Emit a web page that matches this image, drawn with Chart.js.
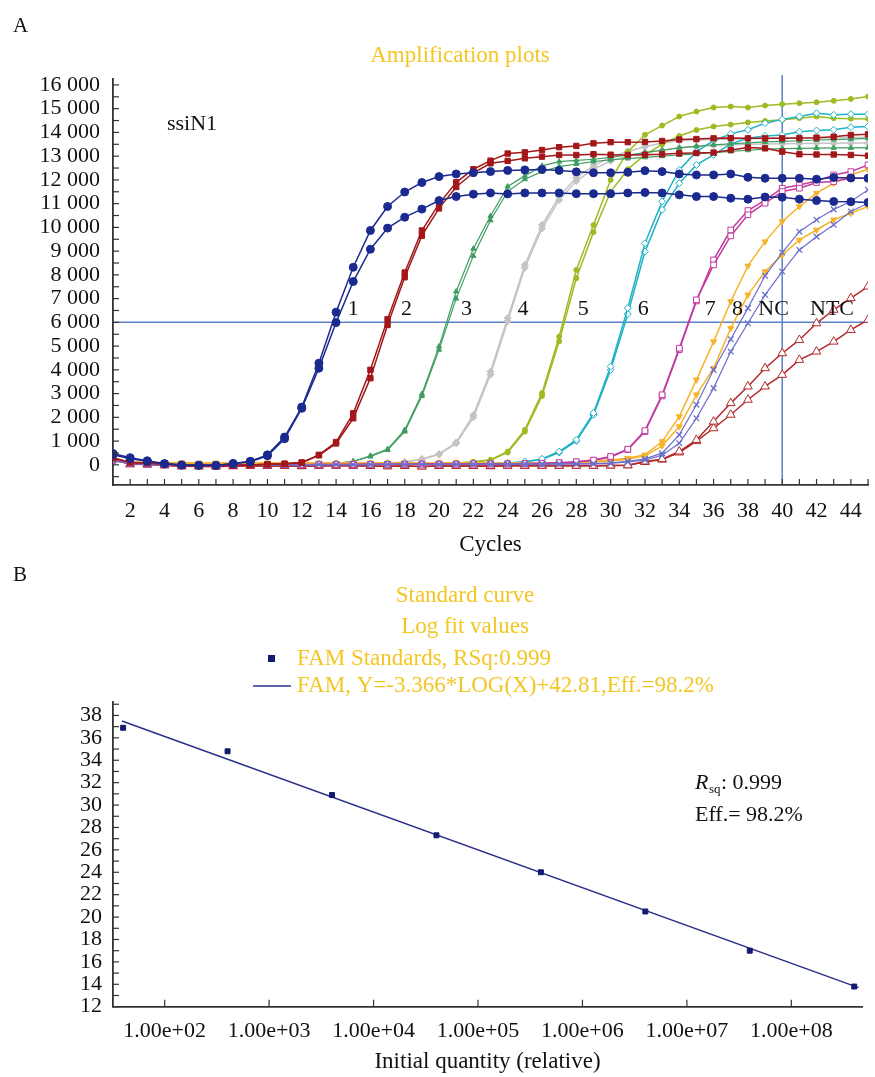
<!DOCTYPE html>
<html>
<head>
<meta charset="utf-8">
<script src="https://cdn.jsdelivr.net/npm/chart.js@4.4.1/dist/chart.umd.min.js"></script>
<style>
  body { margin: 0; background: #fff; }
  #wrap { position: relative; width: 875px; height: 1077px; }
  canvas { position: absolute; left: 0; }
</style>
</head>
<body>
<div id="wrap">
  <canvas id="ampChart" width="875" height="560" style="top:0"></canvas>
  <canvas id="stdChart" width="875" height="517" style="top:560px"></canvas>
</div>
<script>
// ---- panel A data: fluorescence per cycle ----
const cycles = [1,2,3,4,5,6,7,8,9,10,11,12,13,14,15,16,17,18,19,20,21,22,23,24,25,26,27,28,29,30,31,32,33,34,35,36,37,38,39,40,41,42,43,44,45];

const s1a = [480,300,170,50,-10,-20,-20,60,150,420, 1170,2430,4280,6430,8320,9870,10880,11490,11890,12140, 12250,12300,12350,12400,12420,12440,12400,12340,12300,12300, 12320,12390,12350,12250,12210,12210,12250,12110,12070,12070, 12070,12030,12100,12080,12070];
const s1b = [430,260,150,40,-10,-20,-30,40,130,380, 1100,2380,4070,5990,7720,9080,9970,10430,10770,11130, 11300,11400,11450,11410,11450,11450,11450,11420,11420,11420, 11450,11470,11450,11370,11300,11300,11230,11190,11280,11270, 11190,11130,11090,11080,11050];
const s2a = [300,110,80,40,-20,-30,-40,-30,-10,20, 40,100,420,960,2170,4000,6130,8100,9870,10990, 11900,12450,12810,13110,13160,13260,13380,13430,13540,13590, 13590,13600,13640,13700,13720,13750,13760,13750,13750,13750, 13760,13780,13820,13890,13920];
const s2b = [280,100,70,30,-20,-30,-40,-30,-10,20, 40,90,400,900,1960,3650,5890,7900,9650,10800, 11700,12300,12700,12800,12910,12980,13050,13050,13080,13060, 13050,13060,13080,13120,13130,13150,13260,13360,13330,13190, 13080,13070,13070,13050,13020];
const s3a = [250,90,60,30,0,-20,-30,-20,0,10, 20,30,40,60,150,380,660,1470,2980,4980, 7300,9100,10480,11720,12170,12590,12770,12820,12870,12950, 13050,13150,13250,13350,13420,13480,13520,13560,13600,13620, 13650,13680,13700,13720,13750];
const s3b = [230,80,50,20,0,-20,-30,-20,0,10, 20,30,40,50,140,350,620,1400,2900,4850, 7000,8800,10300,11510,12030,12350,12560,12670,12770,12850, 12900,12950,13000,13050,13100,13150,13200,13250,13300,13320, 13330,13340,13350,13350,13360];
const s4a = [250,90,60,30,10,0,-10,0,10,20, 30,40,50,50,60,60,80,120,250,460, 940,2100,3930,6180,8420,10100,11300,12100,12600,12950, 13200,13400,13550,13650,13680,13700,13720,13730,13740,13750, 13760,13770,13780,13790,13800];
const s4b = [240,80,50,20,10,0,-10,0,10,20, 30,40,40,50,50,60,70,110,230,430, 900,2000,3800,6050,8300,9950,11150,11950,12450,12800, 13000,13150,13250,13350,13400,13450,13480,13500,13510,13520, 13530,13540,13540,13550,13550];
const s5a = [200,80,60,40,30,20,20,20,30,30, 40,40,40,50,50,50,50,50,50,60, 80,130,210,560,1470,3020,5400,8210,10100,12000, 13190,13900,14290,14670,14880,15050,15090,15050,15130,15190, 15230,15270,15330,15410,15510];
const s5b = [190,70,50,30,20,20,20,20,20,30, 30,30,40,40,40,40,50,50,50,50, 70,120,190,520,1400,2900,5200,7860,9800,11500, 12450,13050,13500,13850,14100,14250,14330,14420,14480,14530, 14600,14670,14600,14580,14570];
const s6a = [200,80,50,30,20,10,10,10,20,20, 20,30,30,30,40,40,40,40,50,50, 50,50,60,80,130,250,560,1050,2180,4140, 6600,9330,11090,12420,13190,13650,13940,14110,14390,14550, 14670,14810,14740,14770,14770];
const s6b = [190,70,40,20,10,10,10,10,10,20, 20,20,30,30,30,40,40,40,40,50, 50,50,60,70,120,230,520,1000,2100,4000, 6350,8980,10740,11860,12630,13050,13520,13750,13850,13890, 14030,14080,14110,14220,14250];
const s7a = [200,60,30,10,-10,-20,-30,-30,-20,-10, 0,0,10,10,20,20,20,30,30,30, 30,40,40,40,50,70,90,130,200,350, 660,1440,2950,4910,6950,8420,9640,10530,11020,11510, 11650,11890,11930,12070,12070];
const s7b = [190,50,20,0,-10,-20,-30,-30,-20,-10, 0,0,10,10,10,20,20,20,30,30, 30,30,40,40,40,60,80,120,190,330, 640,1400,2900,4850,6900,8630,9890,10710,11150,11650, 11790,11950,12210,12350,12630];
const s8a = [150,120,110,100,90,80,80,80,80,80, 80,80,80,80,80,80,80,80,80,80, 80,80,80,80,80,80,90,100,150,200, 280,420,980,2030,3580,5190,6880,8380,9400,10250, 10880,11440,11860,12210,12450];
const s8b = [140,110,100,90,80,70,70,70,70,70, 70,70,70,70,70,70,70,70,70,70, 70,70,70,70,70,70,80,90,120,160, 230,380,800,1610,2950,4070,5750,7160,8140,8840, 9470,9890,10320,10600,10880];
const sNCa = [200,60,30,10,0,-10,-10,0,0,0, 0,10,10,10,10,20,20,20,20,20, 20,20,30,30,30,30,40,40,50,80, 150,250,490,1260,2530,4000,5290,6600,7960,8940, 9820,10320,10760,11090,11580];
const sNCb = [190,50,20,0,0,-10,-10,0,0,0, 0,0,10,10,10,10,20,20,20,20, 20,20,20,30,30,30,30,40,40,60, 120,200,400,910,1960,3230,4770,5960,7160,8140, 9050,9610,10110,10670,11020];
const sNTCa = [250,30,20,-20,-60,-60,-70,-50,-50,-50, -50,-50,-40,-40,-40,-50,-60,-50,-70,-50, -50,-50,-50,-40,-40,-40,-40,-40,-40,-30, -20,140,240,560,1050,1820,2600,3300,4070,4700, 5260,5960,6530,7020,7510];
const sNTCb = [230,20,10,-20,-60,-70,-70,-60,-50,-50, -50,-60,-50,-40,-40,-50,-60,-50,-70,-50, -50,-50,-60,-40,-40,-40,-40,-40,-40,-30, -20,120,220,520,1000,1540,2110,2740,3300,3790, 4420,4770,5190,5680,6110];

const yTickValues = [0,1000,2000,3000,4000,5000,6000,7000,8000,9000,10000,11000,12000,13000,14000,15000,16000];
const xTickLabels = [2,4,6,8,10,12,14,16,18,20,22,24,26,28,30,32,34,36,38,40,42,44];
const curveLabels = ['1','2','3','4','5','6','7','8','NC','NTC'];
const curveLabelCycles = [15.0,18.1,21.6,24.9,28.4,31.9,35.8,37.4,39.5,42.9];
const curveLabelLevel = 6550;
const threshold = 6000;
const cutoffCycle = 40;

// ---- panel B data: standard curve ----
const stdQty = [4e1, 4e2, 4e3, 4e4, 4e5, 4e6, 4e7, 4e8];
const stdCt = [36.9, 34.8, 30.9, 27.3, 24.0, 20.5, 17.0, 13.8];
const fitQty = [3.9e1, 4.4e8];
const fitCt = [37.5, 13.7];
const qtyTicks = [1e2, 1e3, 1e4, 1e5, 1e6, 1e7, 1e8];
const ctTicks = [12,14,16,18,20,22,24,26,28,30,32,34,36,38];

const SERIF = "'Liberation Serif', 'Times New Roman', serif";
const GOLD = '#f3c623';
Chart.defaults.font.family = SERIF;
Chart.defaults.color = '#222';

function curve(data, color, style, opts) {
  return Object.assign({
    data: cycles.map((c, i) => ({ x: c, y: data[i] })),
    borderColor: color,
    backgroundColor: color,
    pointBorderColor: color,
    pointBackgroundColor: color,
    pointStyle: style,
    pointRadius: 3.5,
    pointBorderWidth: 1,
    borderWidth: 1.5,
    tension: 0
  }, opts || {});
}

const open = { pointBackgroundColor: '#fff' };

const ampDatasets = [
  curve(s1a, '#1b2a8f', 'circle', { pointRadius: 4 }),
  curve(s1b, '#1b2a8f', 'circle', { pointRadius: 4 }),
  curve(s2a, '#a3171a', 'rect', { pointRadius: 3.8 }),
  curve(s2b, '#a3171a', 'rect', { pointRadius: 3.8 }),
  curve(sNCa, '#6b6fcc', 'crossRot', { pointRadius: 4, pointBorderWidth: 1.3, borderWidth: 1.2 }),
  curve(sNCb, '#6b6fcc', 'crossRot', { pointRadius: 4, pointBorderWidth: 1.3, borderWidth: 1.2 }),
  curve(s7a, '#c23c9f', 'rect', Object.assign({ pointRadius: 4 }, open)),
  curve(s7b, '#c23c9f', 'rect', Object.assign({ pointRadius: 4 }, open)),
  curve(s8a, '#f6b32a', 'triangle', { pointRotation: 180, pointRadius: 3.5 }),
  curve(s8b, '#f6b32a', 'triangle', { pointRotation: 180, pointRadius: 3.5 }),
  curve(sNTCa, '#b3282b', 'triangle', Object.assign({ pointRadius: 5 }, open)),
  curve(sNTCb, '#b3282b', 'triangle', Object.assign({ pointRadius: 5 }, open)),
  curve(s3a, '#3f9d62', 'triangle', { pointRadius: 3, borderWidth: 1.2 }),
  curve(s3b, '#3f9d62', 'triangle', { pointRadius: 3, borderWidth: 1.2 }),
  curve(s6a, '#1fb2c6', 'rectRot', Object.assign({ pointRadius: 3.5 }, open)),
  curve(s6b, '#1fb2c6', 'rectRot', Object.assign({ pointRadius: 3.5 }, open)),
  curve(s5a, '#9dbb22', 'circle', { pointRadius: 2.5 }),
  curve(s5b, '#9dbb22', 'circle', { pointRadius: 2.5 }),
  curve(s4a, '#c4c4c4', 'rectRot', { pointRadius: 3.5 }),
  curve(s4b, '#c4c4c4', 'rectRot', { pointRadius: 3.5 })
];

function drawTick(ctx, x1, y1, x2, y2) {
  ctx.beginPath(); ctx.moveTo(x1, y1); ctx.lineTo(x2, y2); ctx.stroke();
}

const ampDecor = {
  id: 'ampDecor',
  beforeDatasetsDraw(chart) {
    const { ctx, chartArea: a, scales: { x, y } } = chart;
    ctx.save();
    ctx.strokeStyle = '#5b80c8';
    ctx.lineWidth = 1.5;
    const ty = y.getPixelForValue(threshold);
    const cx = x.getPixelForValue(cutoffCycle);
    drawTick(ctx, a.left, ty, a.right, ty);
    drawTick(ctx, cx, a.top - 4, cx, a.bottom);
    ctx.restore();
  },
  afterDraw(chart) {
    const { ctx, chartArea: a, scales: { x, y } } = chart;
    ctx.save();
    // inward tick marks
    ctx.strokeStyle = '#333';
    ctx.lineWidth = 1.2;
    for (let v = -500; v <= 16000; v += 500) {
      const py = y.getPixelForValue(v);
      drawTick(ctx, a.left, py, a.left + 6, py);
    }
    cycles.forEach(c => {
      const px = x.getPixelForValue(c);
      drawTick(ctx, px, a.bottom, px, a.bottom - 6);
    });
    // curve labels
    ctx.fillStyle = '#111';
    ctx.font = '22px ' + SERIF;
    ctx.textAlign = 'center';
    ctx.textBaseline = 'middle';
    curveLabels.forEach((t, i) => {
      ctx.fillText(t, x.getPixelForValue(curveLabelCycles[i]), y.getPixelForValue(curveLabelLevel));
    });
    // texts
    ctx.textAlign = 'left';
    ctx.font = '21px ' + SERIF;
    ctx.fillText('A', 13, 26);
    ctx.font = '22px ' + SERIF;
    ctx.fillText('ssiN1', 167, 124);
    ctx.fillStyle = GOLD;
    ctx.textAlign = 'center';
    ctx.font = '23px ' + SERIF;
    ctx.fillText('Amplification plots', 460, 56);
    ctx.restore();
  }
};

new Chart(document.getElementById('ampChart'), {
  type: 'line',
  data: { datasets: ampDatasets },
  plugins: [ampDecor],
  options: {
    responsive: false,
    animation: false,
    layout: { padding: { top: 79, right: 6, left: 0, bottom: 0 } },
    plugins: { legend: { display: false }, tooltip: { enabled: false } },
    scales: {
      x: {
        type: 'linear',
        min: 1,
        max: 45,
        afterFit: s => { s.height = 75; },
        afterBuildTicks: s => { s.ticks = xTickLabels.map(v => ({ value: v })); },
        grid: { display: false, drawTicks: false },
        border: { display: true, color: '#333', width: 1.8 },
        ticks: { padding: 13, maxRotation: 0, autoSkip: false, font: { size: 22 }, color: '#111' },
        title: { display: true, text: 'Cycles', font: { size: 23 }, color: '#111', padding: { top: 0, bottom: 1 } }
      },
      y: {
        min: -850,
        max: 16250,
        afterFit: s => { s.width = 113; },
        afterBuildTicks: s => { s.ticks = yTickValues.map(v => ({ value: v })); },
        grid: { display: false, drawTicks: false },
        border: { display: true, color: '#333', width: 1.8 },
        ticks: {
          padding: 13,
          autoSkip: false,
          font: { size: 22 },
          color: '#111',
          callback: v => v >= 1000 ? Math.floor(v / 1000) + ' ' + String(v % 1000).padStart(3, '0') : String(v)
        }
      }
    }
  }
});

// ---- panel B ----
const stdDecor = {
  id: 'stdDecor',
  afterDraw(chart) {
    const { ctx, chartArea: a, scales: { x, y } } = chart;
    ctx.save();
    ctx.strokeStyle = '#333';
    ctx.lineWidth = 1.2;
    for (let v = 12; v <= 39; v += 1) {
      const py = y.getPixelForValue(v);
      drawTick(ctx, a.left, py, a.left + 6, py);
    }
    qtyTicks.forEach(q => {
      const px = x.getPixelForValue(q);
      drawTick(ctx, px, a.bottom, px, a.bottom - 7);
    });
    ctx.textBaseline = 'middle';
    ctx.textAlign = 'left';
    ctx.fillStyle = '#111';
    ctx.font = '21px ' + SERIF;
    ctx.fillText('B', 13, 15);
    // titles
    ctx.fillStyle = GOLD;
    ctx.textAlign = 'center';
    ctx.font = '23px ' + SERIF;
    ctx.fillText('Standard curve', 465, 36);
    ctx.fillText('Log fit values', 465, 67);
    // legend
    ctx.textAlign = 'left';
    ctx.fillText('FAM Standards, RSq:0.999', 297, 99);
    ctx.fillText('FAM, Y=-3.366*LOG(X)+42.81,Eff.=98.2%', 297, 126);
    ctx.fillStyle = '#141a6e';
    ctx.fillRect(268, 95, 7, 7);
    ctx.strokeStyle = '#2a2f8a';
    ctx.lineWidth = 1.5;
    drawTick(ctx, 253, 126, 291, 126);
    // stats
    ctx.fillStyle = '#111';
    ctx.font = 'italic 22px ' + SERIF;
    ctx.fillText('R', 695, 223);
    ctx.font = '13px ' + SERIF;
    ctx.fillText('sq', 709, 230);
    ctx.font = '22px ' + SERIF;
    ctx.fillText(': 0.999', 721, 223);
    ctx.fillText('Eff.= 98.2%', 695, 255);
    ctx.restore();
  }
};

new Chart(document.getElementById('stdChart'), {
  type: 'scatter',
  data: {
    datasets: [
      {
        data: stdQty.map((q, i) => ({ x: q, y: stdCt[i] })),
        pointStyle: 'rect',
        pointRadius: 3.5,
        pointBackgroundColor: '#141a6e',
        pointBorderColor: '#141a6e',
        showLine: false
      },
      {
        type: 'line',
        data: fitQty.map((q, i) => ({ x: q, y: fitCt[i] })),
        borderColor: '#2a2f8a',
        borderWidth: 1.5,
        pointRadius: 0,
        fill: false
      }
    ]
  },
  plugins: [stdDecor],
  options: {
    responsive: false,
    animation: false,
    layout: { padding: { top: 142, right: 13, left: 0, bottom: 0 } },
    plugins: { legend: { display: false }, tooltip: { enabled: false } },
    scales: {
      x: {
        type: 'logarithmic',
        min: 32,
        max: 4.75e8,
        afterFit: s => { s.height = 70.3; },
        afterBuildTicks: s => { s.ticks = qtyTicks.map(v => ({ value: v })); },
        grid: { display: false, drawTicks: false },
        border: { display: true, color: '#333', width: 1.8 },
        ticks: {
          padding: 11,
          maxRotation: 0,
          autoSkip: false,
          font: { size: 22 },
          color: '#111',
          callback: v => '1.00e+' + String(Math.round(Math.log10(v))).padStart(2, '0')
        },
        title: { display: true, text: 'Initial quantity (relative)', font: { size: 23 }, color: '#111', padding: { top: 0, bottom: 1 } }
      },
      y: {
        min: 12,
        max: 39.2,
        afterFit: s => { s.width = 113; },
        afterBuildTicks: s => { s.ticks = ctTicks.map(v => ({ value: v })); },
        grid: { display: false, drawTicks: false },
        border: { display: true, color: '#333', width: 1.8 },
        ticks: { padding: 11, autoSkip: false, font: { size: 22 }, color: '#111' }
      }
    }
  }
});
</script>
</body>
</html>
